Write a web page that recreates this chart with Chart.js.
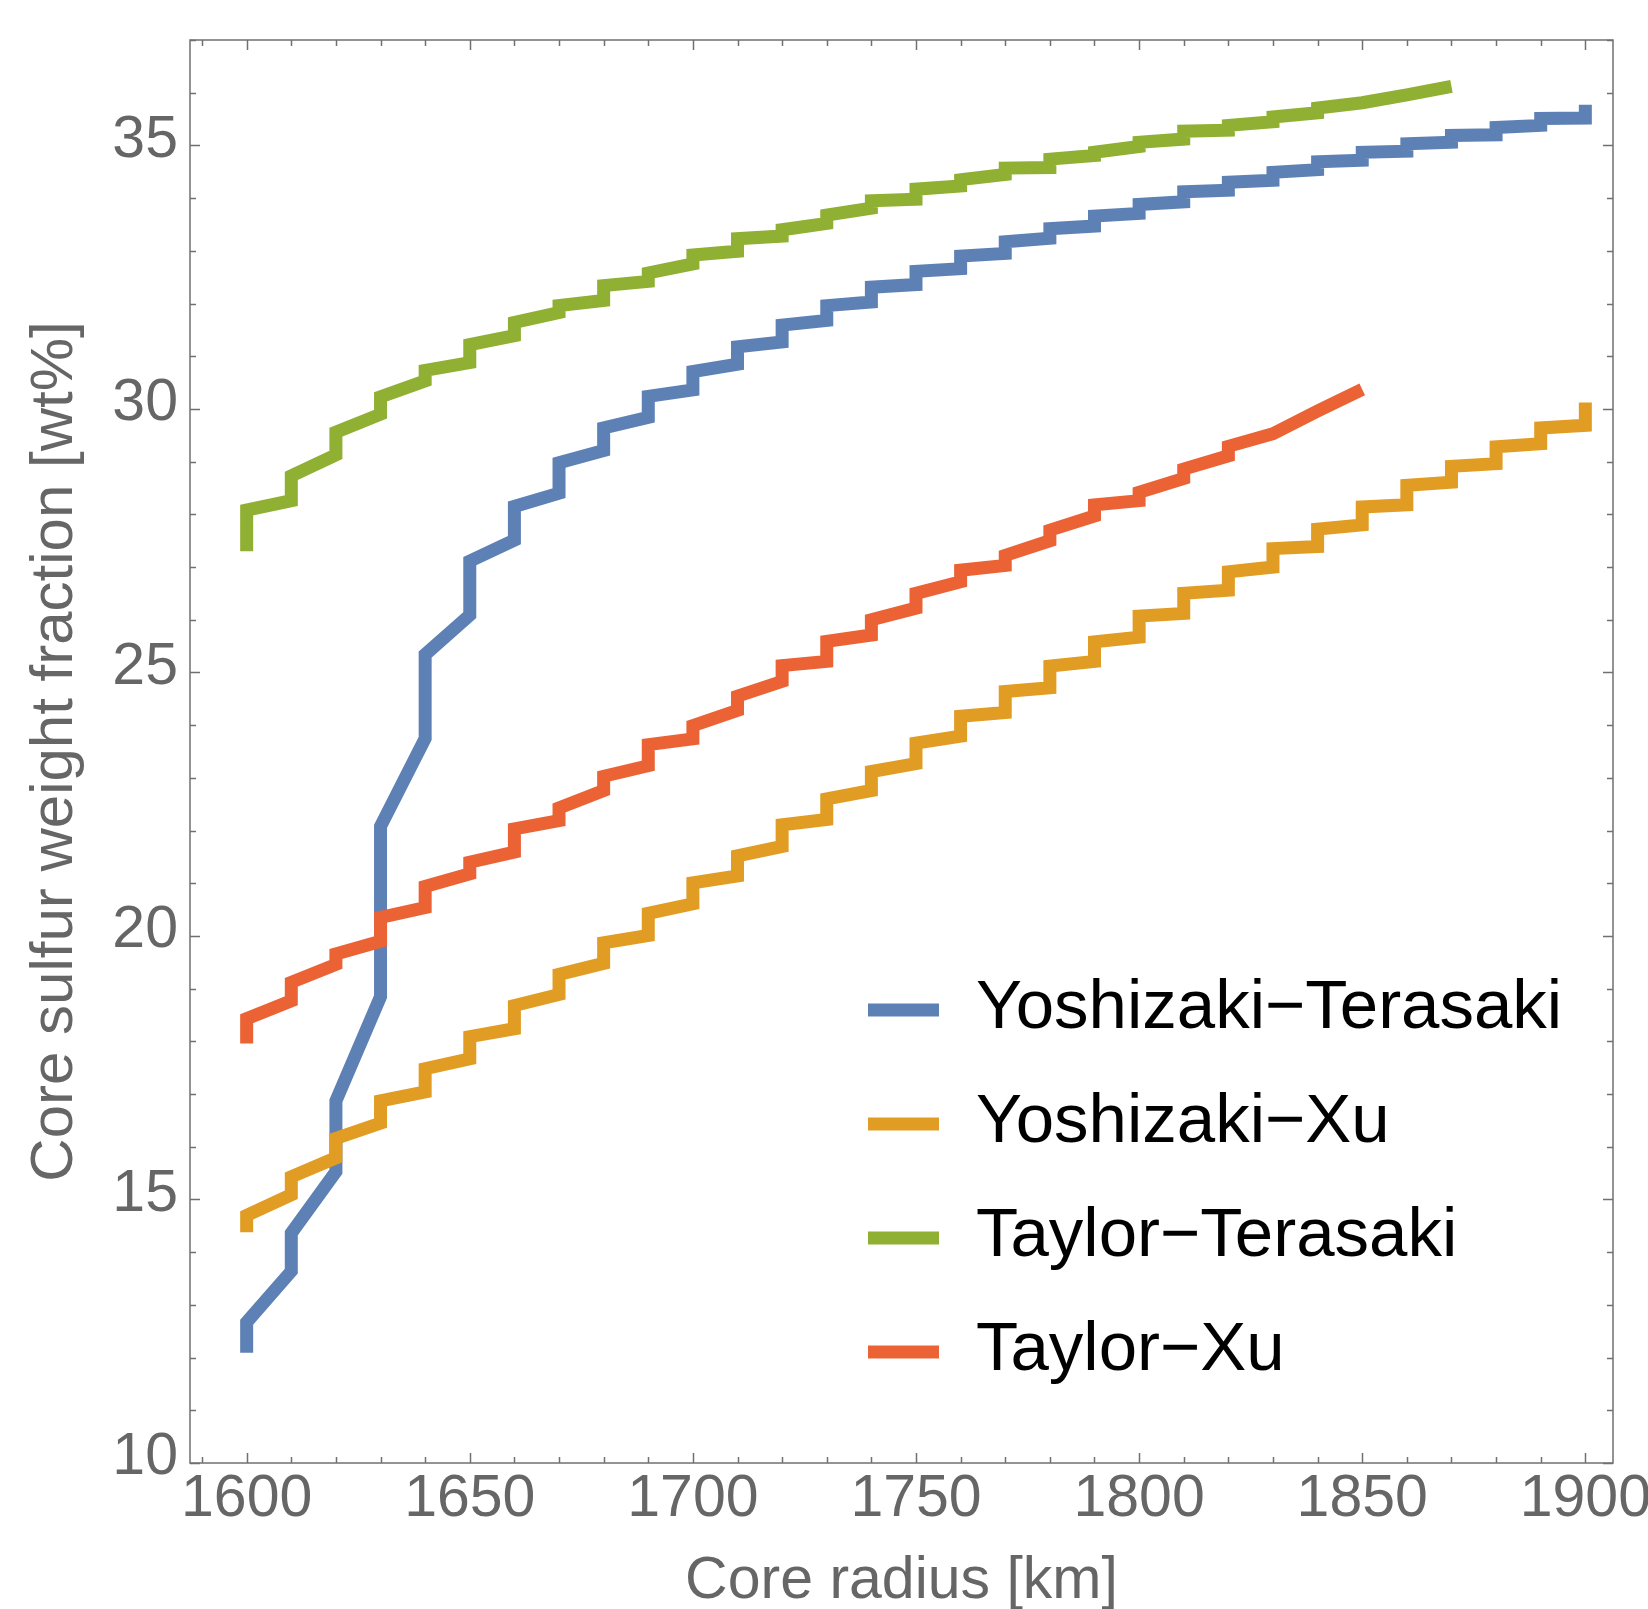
<!DOCTYPE html>
<html><head><meta charset="utf-8">
<script src="https://cdn.jsdelivr.net/npm/chart.js@4/dist/chart.umd.min.js"></script>
<style>html,body{margin:0;padding:0;background:#fff;}</style>
</head><body>
<canvas id="c" width="1648" height="1609"></canvas>
<script>
// ---- data ----
const radii = [1600,1610,1620,1630,1640,1650,1660,1670,1680,1690,1700,1710,1720,1730,1740,1750,1760,1770,1780,1790,1800,1810,1820,1830,1840,1850,1860,1870,1880,1890,1900];
const seriesNames = ['Yoshizaki\u2212Terasaki','Yoshizaki\u2212Xu','Taylor\u2212Terasaki','Taylor\u2212Xu'];
// value reached at each radius (before the jump) and value after the jump
const ytLo = [12.09,13.64,15.53,18.85,23.75,26.09,27.51,28.40,29.21,29.84,30.36,30.85,31.27,31.68,32.03,32.36,32.66,32.95,33.24,33.47,33.71,33.93,34.15,34.34,34.54,34.72,34.89,35.06,35.20,35.38,35.52];
const ytHi = [12.67,14.36,16.87,22.08,25.34,27.11,28.15,28.98,29.64,30.24,30.71,31.18,31.59,31.96,32.31,32.61,32.90,33.17,33.42,33.66,33.88,34.12,34.30,34.49,34.69,34.87,35.03,35.19,35.34,35.51,35.77];
const yxLo = [14.38,15.09,15.79,16.45,17.04,17.67,18.24,18.89,19.48,20.01,20.61,21.14,21.70,22.21,22.76,23.27,23.79,24.24,24.71,25.21,25.67,26.12,26.56,27.00,27.39,27.80,28.18,28.61,28.96,29.34,29.69];
const yxHi = [14.70,15.43,16.16,16.87,17.48,18.09,18.68,19.27,19.87,20.43,21.01,21.52,22.11,22.60,23.12,23.66,24.17,24.64,25.12,25.58,26.07,26.50,26.91,27.35,27.72,28.14,28.55,28.91,29.28,29.64,30.12];
const ttLo = [27.30,28.26,29.13,29.90,30.53,30.88,31.39,31.83,32.06,32.42,32.75,32.99,33.28,33.52,33.81,33.98,34.23,34.45,34.58,34.81,34.98,35.12,35.29,35.45,35.62,35.81,35.96,36.12,null,null,null];
const ttHi = [28.08,28.73,29.56,30.23,30.73,31.22,31.64,31.96,32.34,32.58,32.92,33.23,33.40,33.68,33.95,34.17,34.35,34.57,34.74,34.87,35.06,35.27,35.38,35.54,35.71,null,null,null,null,null,null];
const txLo = [17.96,18.77,19.46,19.90,20.54,21.18,21.59,22.19,22.76,23.23,23.74,24.28,24.83,25.21,25.71,26.22,26.72,27.03,27.50,27.97,28.26,28.68,29.11,29.53,29.96,30.37,null,null,null,null,null];
const txHi = [18.43,19.12,19.66,20.35,20.94,21.40,22.03,22.43,23.03,23.63,23.99,24.55,25.13,25.59,26.00,26.50,26.94,27.22,27.70,28.18,28.42,28.86,29.29,null,null,null,null,null,null,null,null];
const xTickValues = [1600,1650,1700,1750,1800,1850,1900];
const yTickValues = [10,15,20,25,30,35];

// ---- styling ----
const colors = ['#5E81B5','#E19C24','#8FB032','#EB6235'];
const FONT = '"Liberation Sans", Arial, Helvetica, sans-serif';
const GRAY = '#666666';

function buildSteps(lo, hi) {
  const pts = [];
  for (let i = 0; i < radii.length; i++) {
    if (lo[i] == null) continue;
    pts.push({x: radii[i], y: lo[i]});
    if (hi[i] != null) pts.push({x: radii[i], y: hi[i]});
  }
  return pts;
}
const los = [ytLo, yxLo, ttLo, txLo];
const his = [ytHi, yxHi, ttHi, txHi];
const drawOrder = [3, 2, 1, 0]; // red on top, blue at bottom

const datasets = seriesNames.map((n, i) => ({
  label: n,
  data: buildSteps(los[i], his[i]),
  borderColor: colors[i],
  backgroundColor: colors[i],
  borderWidth: 13,
  pointRadius: 0,
  pointHoverRadius: 0,
  tension: 0,
  fill: false,
  borderCapStyle: 'butt',
  borderJoinStyle: 'miter',
  order: drawOrder[i]
}));

const framePlugin = {
  id: 'frameTicks',
  afterDatasetsDraw(chart) {
    const ctx = chart.ctx;
    const {left, right, top, bottom} = chart.chartArea;
    const xs = chart.scales.x, ys = chart.scales.y;
    ctx.save();
    ctx.strokeStyle = '#707070';
    ctx.lineWidth = 1.5;
    ctx.strokeRect(left, top, right - left, bottom - top);
    ctx.beginPath();
    for (let v = 1590; v <= 1900; v += 10) {
      const px = Math.round(xs.getPixelForValue(v)) + 0.5;
      const len = (v % 50 === 0) ? 10 : 6;
      ctx.moveTo(px, bottom); ctx.lineTo(px, bottom - len);
      ctx.moveTo(px, top); ctx.lineTo(px, top + len);
    }
    for (let v = 10; v <= 37; v += 1) {
      const py = Math.round(ys.getPixelForValue(v)) + 0.5;
      const len = (v % 5 === 0) ? 10 : 6;
      ctx.moveTo(left, py); ctx.lineTo(left + len, py);
      ctx.moveTo(right, py); ctx.lineTo(right - len, py);
    }
    ctx.stroke();
    ctx.restore();
  }
};

const legendPlugin = {
  id: 'insideLegend',
  afterDraw(chart) {
    const ctx = chart.ctx;
    ctx.save();
    ctx.lineCap = 'butt';
    ctx.lineWidth = 13;
    ctx.font = '69px ' + FONT;
    ctx.textBaseline = 'alphabetic';
    ctx.textAlign = 'left';
    seriesNames.forEach((n, i) => {
      const y = 1010 + 114 * i;
      ctx.strokeStyle = colors[i];
      ctx.beginPath(); ctx.moveTo(868, y); ctx.lineTo(939, y); ctx.stroke();
      ctx.fillStyle = '#000';
      ctx.fillText(n, 976, y + 18);
    });
    ctx.restore();
  }
};

new Chart(document.getElementById('c'), {
  type: 'line',
  data: {datasets},
  options: {
    responsive: false,
    animation: false,
    devicePixelRatio: 1,
    layout: {padding: {left: 0, right: 35, top: 40, bottom: 0}},
    plugins: {legend: {display: false}, tooltip: {enabled: false}},
    scales: {
      x: {
        type: 'linear', min: 1587.3, max: 1906.2,
        afterBuildTicks: s => { s.ticks = xTickValues.map(v => ({value: v})); },
        afterFit: s => { s.height = 146; s.paddingLeft = 0; s.paddingRight = 0; },
        grid: {display: false, drawTicks: false},
        border: {display: false},
        ticks: {color: GRAY, font: {family: FONT, size: 59}, padding: 1, maxRotation: 0, autoSkip: false, callback: v => String(v)},
        title: {display: true, text: 'Core radius [km]', color: GRAY, font: {family: FONT, size: 59, lineHeight: '54px'}, padding: {top: 0, bottom: 0}}
      },
      y: {
        type: 'linear', min: 10, max: 37,
        afterBuildTicks: s => { s.ticks = yTickValues.map(v => ({value: v})); },
        afterFit: s => { s.width = 190; s.paddingTop = 0; s.paddingBottom = 0; },
        grid: {display: false, drawTicks: false},
        border: {display: false},
        ticks: {color: GRAY, font: {family: FONT, size: 59}, padding: 12, labelOffset: -5, autoSkip: false, callback: v => String(v)},
        title: {display: true, text: 'Core sulfur weight fraction [wt%]', color: GRAY, font: {family: FONT, size: 60, lineHeight: '54px'}, padding: {top: 28.5, bottom: 0}}
      }
    }
  },
  plugins: [framePlugin, legendPlugin]
});
</script>
</body></html>
